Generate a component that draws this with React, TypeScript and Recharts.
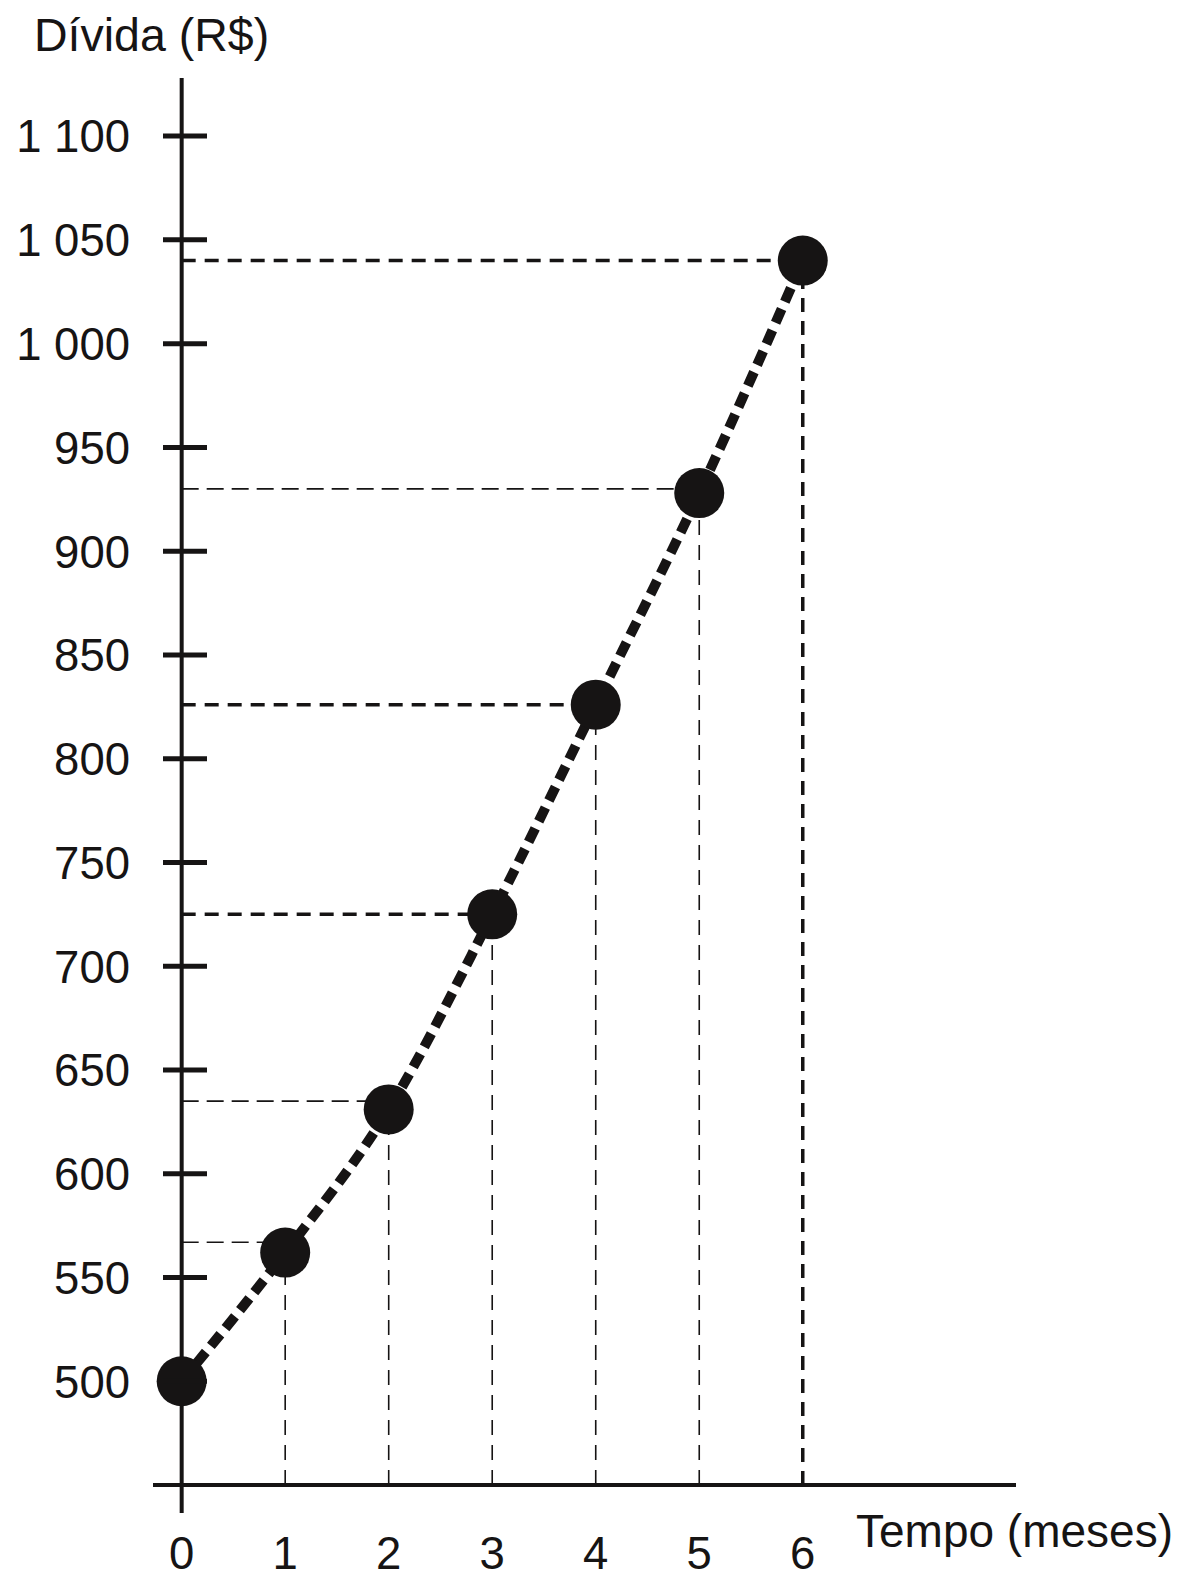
import React from "react";
import { LineChart, Line, XAxis, YAxis, ReferenceLine, Label } from "recharts";

// Tempo (meses) and debt
const months = [0, 1, 2, 3, 4, 5, 6];
const divida = [500, 562, 631, 725, 826, 928, 1040];
// dashed guide levels drawn from the y axis, for months 1..6
const guideLevels = [567, 635, 725, 826, 930, 1040];
const yTicks = [500, 550, 600, 650, 700, 750, 800, 850, 900, 950, 1000, 1050, 1100];
const xTicks = [0, 1, 2, 3, 4, 5, 6];

const data = months.map((m, i) => ({ mes: m, divida: divida[i] }));

const INK = "#161414";
const FONT = "'Liberation Sans', Arial, Helvetica, sans-serif";
const Y_MIN = 450;
const Y_MAX = 1128;
const heavyGuides = new Set([2, 3, 5]);

const fmt = (v: number) => String(v).replace(/\B(?=(\d{3})+$)/, " ");

const YTick = (props: any) => {
  const { x, y, payload } = props;
  return (
    <g>
      <line x1={x + 10} x2={x + 54} y1={y} y2={y} stroke={INK} strokeWidth={5} />
      <text x={x - 23} y={y} dy="0.36em" textAnchor="end" fontSize={45.5} fontFamily={FONT} fill={INK}>
        {fmt(payload.value)}
      </text>
    </g>
  );
};

const XTick = (props: any) => {
  const { x, y, payload } = props;
  return (
    <text x={x} y={y + 84} textAnchor="middle" fontSize={45.5} fontFamily={FONT} fill={INK}>
      {payload.value}
    </text>
  );
};

export default function App() {
  return (
    <div style={{ position: "absolute", left: 0, top: 0, background: "#fff" }}>
      <LineChart width={1200} height={1584} data={data} margin={{ top: 78, right: 184, bottom: 0, left: 0 }}>
        <XAxis
          dataKey="mes"
          type="number"
          domain={[-0.277, 8.06]}
          allowDataOverflow
          ticks={xTicks}
          interval={0}
          height={99}
          axisLine={{ stroke: INK, strokeWidth: 4 }}
          tickLine={false}
          tickSize={0}
          tickMargin={0}
          tick={XTick}
        >
          <Label
            content={({ viewBox }: any) => (
              <text
                x={viewBox.x + viewBox.width - 160}
                y={viewBox.y + 62}
                fontSize={46}
                fontFamily={FONT}
                fill={INK}
              >
                Tempo (meses)
              </text>
            )}
          />
        </XAxis>
        <YAxis
          type="number"
          domain={[Y_MIN, Y_MAX]}
          allowDataOverflow
          ticks={yTicks}
          interval={0}
          width={153}
          axisLine={false}
          tickLine={false}
          tickSize={0}
          tickMargin={0}
          tick={YTick}
        >
          <Label
            content={({ viewBox }: any) => (
              <text x={viewBox.x + 34} y={viewBox.y - 27} fontSize={46.5} fontFamily={FONT} fill={INK}>
                Dívida (R$)
              </text>
            )}
          />
        </YAxis>

        {/* y axis line through month 0, running a bit under the x axis */}
        <ReferenceLine
          segment={[
            { x: 0, y: 436.5 },
            { x: 0, y: Y_MAX },
          ]}
          stroke={INK}
          strokeWidth={4}
          ifOverflow="visible"
        />

        {guideLevels.map((lvl, i) => (
          <ReferenceLine
            key={`h${i}`}
            segment={[
              { x: 0, y: lvl },
              { x: months[i + 1], y: lvl },
            ]}
            stroke={INK}
            strokeWidth={heavyGuides.has(i) ? 3.5 : 1.6}
            strokeDasharray={heavyGuides.has(i) ? "14 9" : "17 8"}
            ifOverflow="visible"
          />
        ))}
        {months.slice(1).map((m, i) => (
          <ReferenceLine
            key={`v${i}`}
            segment={[
              { x: m, y: Y_MIN },
              { x: m, y: divida[i + 1] },
            ]}
            stroke={INK}
            strokeWidth={m === 6 ? 3.5 : 1.6}
            strokeDasharray={m === 6 ? "14 9" : "15 10"}
            ifOverflow="visible"
          />
        ))}

        <Line
          type="monotone"
          dataKey="divida"
          stroke={INK}
          strokeWidth={10}
          strokeDasharray="15 8"
          dot={{ r: 25, fill: INK, stroke: "none" }}
          activeDot={false}
          isAnimationActive={false}
        />
      </LineChart>
    </div>
  );
}
